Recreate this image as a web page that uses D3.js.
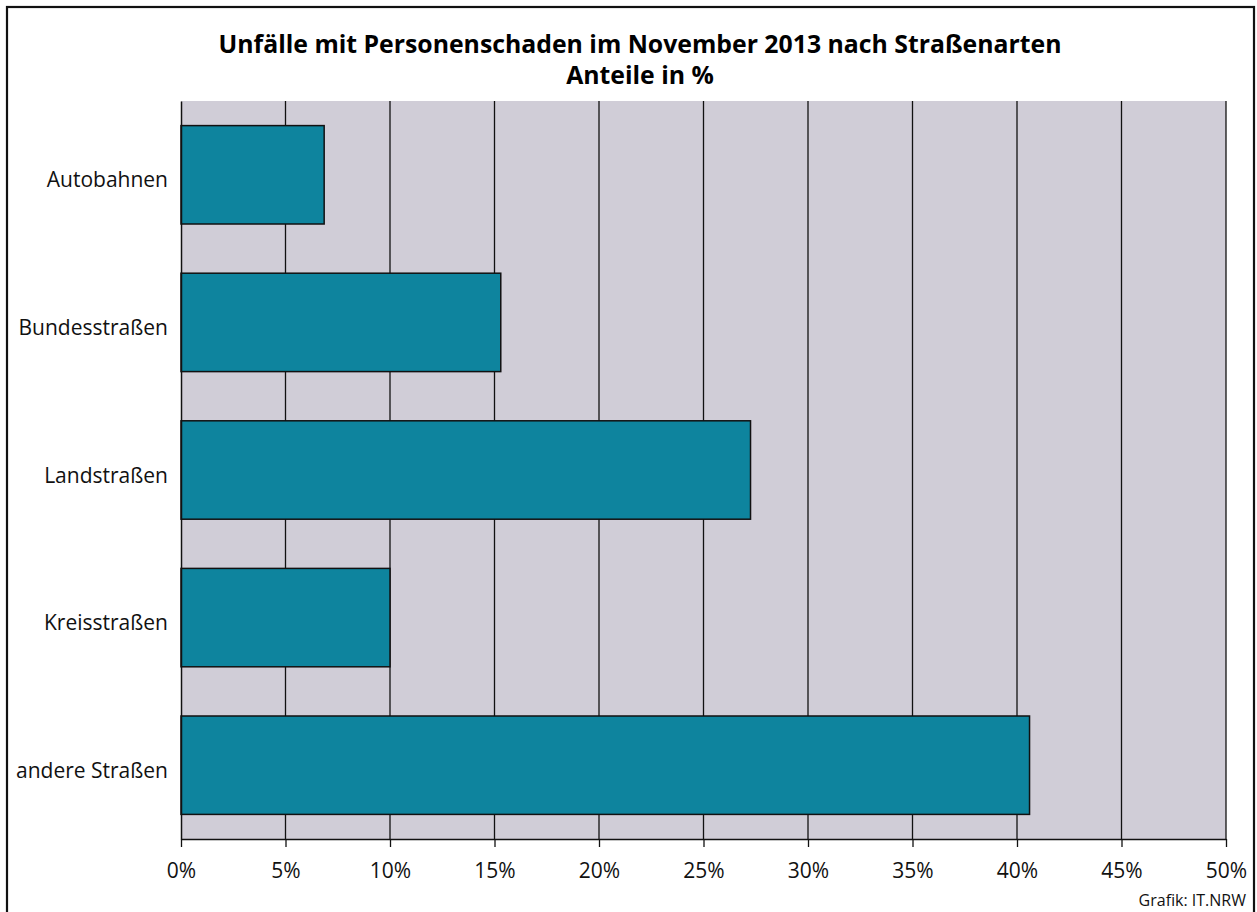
<!DOCTYPE html>
<html>
<head>
<meta charset="utf-8">
<script src="https://cdn.jsdelivr.net/npm/d3@7"></script>
<style>
  body { margin: 0; background: #fff; }
  svg { display: block; font-family: "Open Sans", "Noto Sans", sans-serif; }
</style>
</head>
<body>
<div id="chart"></div>
<script>
// data
const categories = ['Autobahnen', 'Bundesstraßen', 'Landstraßen', 'Kreisstraßen', 'andere Straßen'];
const shares = [6.85, 15.3, 27.25, 10.0, 40.6];
const xTicks = [0, 5, 10, 15, 20, 25, 30, 35, 40, 45, 50];
const titleLines = ['Unfälle mit Personenschaden im November 2013 nach Straßenarten', 'Anteile in %'];
const sourceNote = 'Grafik: IT.NRW';

const W = 1257, H = 912;
const margin = { top: 101, right: 31, bottom: 73, left: 181 };
const width = W - margin.left - margin.right;
const height = H - margin.top - margin.bottom;
const fontFamily = '"Open Sans", "Noto Sans", sans-serif';

const svg = d3.select('#chart').append('svg')
  .attr('width', W)
  .attr('height', H);

// outer frame
svg.append('rect')
  .attr('x', 7).attr('y', 7)
  .attr('width', 1247).attr('height', 920)
  .attr('fill', 'none')
  .attr('stroke', '#111')
  .attr('stroke-width', 2.2);

// title
svg.append('text')
  .attr('text-anchor', 'middle')
  .style('font-weight', 'bold')
  .style('font-size', '24.8px')
  .attr('fill', '#000')
  .selectAll('tspan')
  .data(titleLines)
  .join('tspan')
  .attr('x', 640)
  .attr('y', (d, i) => 53 + i * 31)
  .text(d => d);

const chart = svg.append('g')
  .attr('transform', `translate(${margin.left}, ${margin.top})`);

const xScale = d3.scaleLinear().domain([0, 50]).range([0, width]);
const yScale = d3.scaleBand().domain(categories).range([0, height])
  .paddingInner(1 / 3).paddingOuter(1 / 6);

// plot background
chart.append('rect')
  .attr('width', width).attr('height', height)
  .attr('fill', '#d0cdd7');

// vertical grid lines
chart.append('g')
  .selectAll('line')
  .data(xTicks.slice(1))
  .join('line')
  .attr('x1', d => xScale(d)).attr('x2', d => xScale(d))
  .attr('y1', 0).attr('y2', height)
  .attr('stroke', '#111')
  .attr('stroke-width', 1.3);

// bars
chart.append('g')
  .selectAll('rect')
  .data(categories)
  .join('rect')
  .attr('x', xScale(0))
  .attr('y', d => yScale(d))
  .attr('width', (d, i) => xScale(shares[i]) - xScale(0))
  .attr('height', yScale.bandwidth())
  .attr('fill', '#0e849e')
  .attr('stroke', '#111')
  .attr('stroke-width', 1.5);

// x axis
const xAxis = chart.append('g')
  .attr('transform', `translate(0, ${height})`)
  .call(d3.axisBottom(xScale).tickValues(xTicks).tickSize(8).tickSizeOuter(0).tickPadding(16)
    .tickFormat(d => d + '%'));
xAxis.select('.domain').attr('stroke', '#111').attr('stroke-width', 1.5);
xAxis.selectAll('.tick line').attr('stroke', '#111').attr('stroke-width', 1.3);
xAxis.selectAll('.tick text')
  .style('font-size', '21px')
  .style('font-family', fontFamily)
  .attr('fill', '#111');

// y axis
const yAxis = chart.append('g')
  .call(d3.axisLeft(yScale).tickSize(0).tickPadding(13));
yAxis.select('.domain').attr('stroke', '#111').attr('stroke-width', 1.5);
yAxis.selectAll('.tick text')
  .attr('dy', '0.6em')
  .style('font-size', '21px')
  .style('font-family', fontFamily)
  .attr('fill', '#111');

// source note
svg.append('text')
  .attr('x', 1246).attr('y', 906)
  .attr('text-anchor', 'end')
  .style('font-size', '16px')
  .attr('fill', '#111')
  .text(sourceNote);
</script>
</body>
</html>
